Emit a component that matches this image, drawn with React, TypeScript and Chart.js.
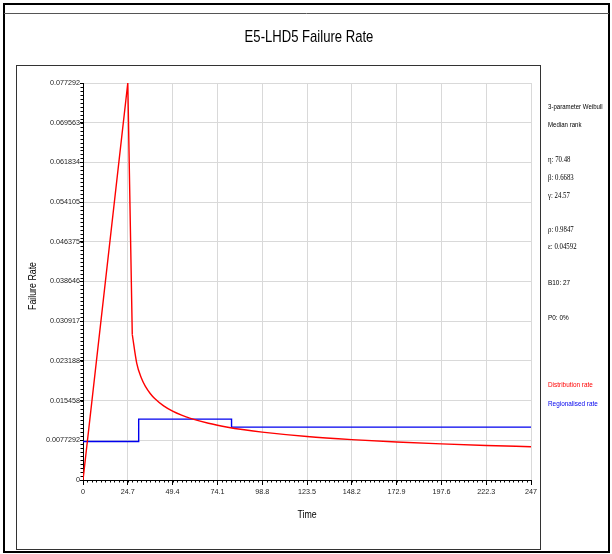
import { useEffect, useRef } from 'react';
import { Chart, registerables } from 'chart.js';

Chart.register(...registerables);

// Distribution (3-parameter Weibull) hazard: ramp up to the peak, then the decay
const RAMP_T = [0, 24.7, 27.17];
const RAMP_V = [0, 0.077292, 0.02833];
const DECAY_T = [27.17, 29.64, 32.11, 34.58, 37.05, 39.52, 44.46, 49.4, 54.34, 59.28, 69.16, 79.04, 88.92, 98.8, 123.5, 148.2, 172.9, 197.6, 222.3, 247];
const DECAY_V = [0.02833, 0.0227, 0.0199, 0.01812, 0.01684, 0.01586, 0.01443, 0.0134, 0.01262, 0.01199, 0.01104, 0.01033, 0.00977, 0.00932, 0.00847, 0.00787, 0.00741, 0.00704, 0.00673, 0.00648];

// Regionalised (piecewise constant) rate
const REGION_T = [0, 30.7, 30.7, 81.9, 81.9, 247];
const REGION_V = [0.0075, 0.0075, 0.01185, 0.01185, 0.01029, 0.01029];

const X_TICKS = [0, 24.7, 49.4, 74.1, 98.8, 123.5, 148.2, 172.9, 197.6, 222.3, 247];
const X_LABELS = ['0', '24.7', '49.4', '74.1', '98.8', '123.5', '148.2', '172.9', '197.6', '222.3', '247'];
const Y_TICKS = [0, 0.0077292, 0.015458, 0.023188, 0.030917, 0.038646, 0.046375, 0.054105, 0.061834, 0.069563, 0.077292];
const Y_LABELS = ['0', '0.0077292', '0.015458', '0.023188', '0.030917', '0.038646', '0.046375', '0.054105', '0.061834', '0.069563', '0.077292'];

const TITLE = 'E5-LHD5 Failure Rate';
const X_TITLE = 'Time';
const Y_TITLE = 'Failure Rate';
const MODEL_LINES = ['3-parameter Weibull', 'Median rank'];
const PARAM_LINES = ['η: 70.48', 'β: 0.6683', 'γ: 24.57'];
const FIT_LINES = ['ρ: 0.9847', 'ε: 0.04592'];
const EXTRA_LINES = ['B10: 27', 'P0: 0%'];
const LEGEND_LINES = ['Distribution rate', 'Regionalised rate'];

const W = 612;
const H = 554;
const SANS = "'Liberation Sans', Arial, sans-serif";
const SERIF = "'Liberation Serif', 'Times New Roman', serif";
const RED = '#ff0000';
const BLUE = '#0000ee';

// text drawn with a horizontal squeeze, as in the narrow report font
function narrowText(
  ctx: CanvasRenderingContext2D,
  text: string,
  x: number,
  y: number,
  font: string,
  sx: number,
  align: CanvasTextAlign = 'left',
  rotate = 0,
) {
  ctx.save();
  ctx.translate(x, y);
  if (rotate) ctx.rotate(rotate);
  ctx.scale(sx, 1);
  ctx.font = font;
  ctx.textAlign = align;
  ctx.textBaseline = 'middle';
  ctx.fillText(text, 0, 0);
  ctx.restore();
}

const decorations = {
  id: 'decorations',
  beforeDraw(chart: any) {
    const ctx = chart.ctx as CanvasRenderingContext2D;
    ctx.save();
    ctx.fillStyle = '#ffffff';
    ctx.fillRect(0, 0, W, H);
    // outer window frame
    ctx.strokeStyle = '#000';
    ctx.lineWidth = 2;
    ctx.strokeRect(4, 4, 605, 548);
    ctx.strokeStyle = '#555';
    ctx.lineWidth = 1;
    ctx.beginPath();
    ctx.moveTo(4, 13.5);
    ctx.lineTo(609, 13.5);
    ctx.stroke();
    // plot panel box
    ctx.strokeStyle = '#333';
    ctx.strokeRect(16.5, 65.5, 524, 484);
    ctx.restore();
  },
  afterDraw(chart: any) {
    const ctx = chart.ctx as CanvasRenderingContext2D;
    const xs = chart.scales.x;
    const ys = chart.scales.y;
    ctx.save();

    // minor tick marks, ten per major interval
    ctx.strokeStyle = '#000';
    ctx.lineWidth = 1;
    ctx.beginPath();
    const xStep = (X_TICKS[1] - X_TICKS[0]) / 10;
    for (let i = 0; i <= (X_TICKS.length - 1) * 10; i++) {
      const px = Math.round(xs.getPixelForValue(i * xStep)) + 0.5;
      ctx.moveTo(px, ys.bottom);
      ctx.lineTo(px, ys.bottom + 2.5);
    }
    const yStep = (Y_TICKS[1] - Y_TICKS[0]) / 10;
    for (let i = 0; i <= (Y_TICKS.length - 1) * 10; i++) {
      const py = Math.round(ys.getPixelForValue(i * yStep)) + 0.5;
      ctx.moveTo(xs.left - 2.5, py);
      ctx.lineTo(xs.left, py);
    }
    ctx.stroke();

    ctx.fillStyle = '#000';
    // title and axis titles
    narrowText(ctx, TITLE, 309, 37, `17px ${SANS}`, 0.77, 'center');
    narrowText(ctx, X_TITLE, (xs.left + xs.right) / 2, 515, `11px ${SANS}`, 0.8, 'center');
    narrowText(ctx, Y_TITLE, 33, 286, `11px ${SANS}`, 0.8, 'center', -Math.PI / 2);

    // side panel with fit details
    const x0 = 548;
    const panelFont = `8px ${SANS}`;
    MODEL_LINES.forEach((t, i) => narrowText(ctx, t, x0, 107 + i * 18, panelFont, 0.76));
    const greekFont = `8.5px ${SERIF}`;
    PARAM_LINES.forEach((t, i) => narrowText(ctx, t, x0, 160 + i * 18, greekFont, 0.8));
    FIT_LINES.forEach((t, i) => narrowText(ctx, t, x0, 230 + i * 17, greekFont, 0.8));
    EXTRA_LINES.forEach((t, i) => narrowText(ctx, t, x0, 283 + i * 35, panelFont, 0.8));
    ctx.fillStyle = RED;
    narrowText(ctx, LEGEND_LINES[0], x0, 385, panelFont, 0.8);
    ctx.fillStyle = BLUE;
    narrowText(ctx, LEGEND_LINES[1], x0, 404, panelFont, 0.8);
    ctx.restore();
  },
};

export default function App() {
  const ref = useRef<HTMLCanvasElement | null>(null);

  useEffect(() => {
    if (!ref.current) return;
    const chart = new Chart(ref.current, {
      type: 'line',
      data: {
        datasets: [
          {
            label: 'Distribution rate',
            data: RAMP_T.map((t, i) => ({ x: t, y: RAMP_V[i] })),
            borderColor: RED,
            borderWidth: 1.4,
            pointRadius: 0,
            tension: 0,
          },
          {
            label: 'Distribution rate (decay)',
            data: DECAY_T.map((t, i) => ({ x: t, y: DECAY_V[i] })),
            borderColor: RED,
            borderWidth: 1.4,
            pointRadius: 0,
            cubicInterpolationMode: 'monotone',
          },
          {
            label: 'Regionalised rate',
            data: REGION_T.map((t, i) => ({ x: t, y: REGION_V[i] })),
            borderColor: BLUE,
            borderWidth: 1.4,
            pointRadius: 0,
            tension: 0,
          },
        ],
      },
      options: {
        animation: false,
        responsive: false,
        devicePixelRatio: 1,
        events: [],
        layout: { padding: { left: 27, top: 83, right: 81, bottom: 33 } },
        plugins: {
          legend: { display: false },
          title: { display: false },
          tooltip: { enabled: false },
        },
        scales: {
          x: {
            type: 'linear',
            min: 0,
            max: 247,
            afterBuildTicks: (s: any) => {
              s.ticks = X_TICKS.map((v) => ({ value: v }));
            },
            afterFit: (s: any) => {
              s.height = 41;
            },
            ticks: {
              autoSkip: false,
              maxRotation: 0,
              padding: 3,
              color: '#222',
              font: { family: SANS, size: 7.2 },
              callback: (_v: any, i: number) => X_LABELS[i],
            },
            grid: { color: '#d9d9d9', lineWidth: 1, tickColor: '#000', tickLength: 5 },
            border: { color: '#000', width: 1 },
          },
          y: {
            type: 'linear',
            min: 0,
            max: 0.077292,
            afterBuildTicks: (s: any) => {
              s.ticks = Y_TICKS.map((v) => ({ value: v }));
            },
            afterFit: (s: any) => {
              s.width = 56;
            },
            ticks: {
              autoSkip: false,
              padding: 0,
              color: '#222',
              font: { family: SANS, size: 7.2 },
              callback: (_v: any, i: number) => Y_LABELS[i],
            },
            grid: { color: '#d9d9d9', lineWidth: 1, tickColor: '#000', tickLength: 3 },
            border: { color: '#000', width: 1 },
          },
        },
      } as any,
      plugins: [decorations],
    });
    return () => chart.destroy();
  }, []);

  return (
    <div style={{ position: 'fixed', left: 0, top: 0, width: W, height: H, background: '#fff' }}>
      <canvas ref={ref} width={W} height={H} style={{ display: 'block', width: W, height: H }} />
    </div>
  );
}
